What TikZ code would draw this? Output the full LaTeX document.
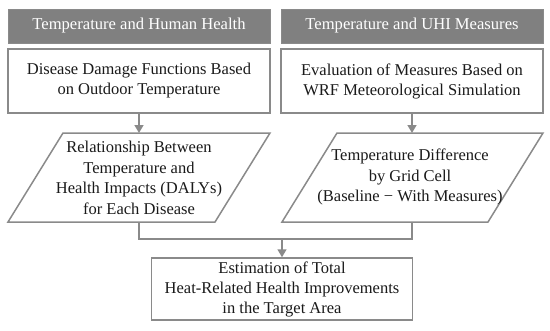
\documentclass[tikz,border=0pt]{standalone}
\usepackage{fontspec}
\setmainfont{Liberation Serif}
\usetikzlibrary{arrows.meta}
\definecolor{hdr}{HTML}{808080}
\definecolor{edge}{HTML}{8A8A8A}
\definecolor{ink}{HTML}{1A1A1A}
\tikzset{
  hdrbox/.style={fill=hdr, draw=edge, line width=1pt, minimum width=262pt, minimum height=34pt, text=white, font=\fontsize{16.6}{20}\selectfont, inner sep=0pt},
  procbox/.style={draw=edge, line width=1.5pt, fill=white, text=ink, align=center, font=\fontsize{16.5}{20}\selectfont, inner sep=0pt},
  txt/.style={text=ink, align=center, font=\fontsize{16.5}{20.5}\selectfont, inner sep=0pt},
  para/.style={draw=edge, line width=1.5pt, line join=miter},
  conn/.style={draw=edge, line width=1.5pt},
  arr/.style={draw=edge, line width=1.5pt, -{Triangle[width=9pt,length=8pt]}},
}
\begin{document}
\begin{tikzpicture}[x=1pt,y=-1pt]
\useasboundingbox (0,0) rectangle (550,330);
% headers
\node[hdrbox] (h1) at (139,26) {Temperature and Human Health};
\node[hdrbox] (h2) at (412,26) {Temperature and UHI Measures};
% top boxes
\node[procbox, minimum width=262pt, minimum height=64pt] (b1) at (139,81) {Disease Damage Functions Based\\on Outdoor Temperature};
\node[procbox, minimum width=262pt, minimum height=64pt] (b2) at (412,81) {Evaluation of Measures Based on\\WRF Meteorological Simulation};
% parallelograms
\coordinate (p1tl) at (63,133); \coordinate (p1tr) at (270,133);
\coordinate (p1br) at (215,222); \coordinate (p1bl) at (8,222);
\draw[para] (p1tl) -- (p1tr) -- (p1br) -- (p1bl) -- cycle;
\coordinate (p1top) at (139,133); \coordinate (p1bot) at (139,222);
\node[txt] (t1) at (139,178) {Relationship Between\\Temperature and\\Health Impacts (DALYs)\\for Each Disease};
\coordinate (p2tl) at (337,133); \coordinate (p2tr) at (543,133);
\coordinate (p2br) at (488,222); \coordinate (p2bl) at (282,222);
\draw[para] (p2tl) -- (p2tr) -- (p2br) -- (p2bl) -- cycle;
\coordinate (p2top) at (412,133); \coordinate (p2bot) at (412,222);
\node[txt] (t2) at (410,177) {Temperature Difference\\by Grid Cell\\(Baseline − With Measures)};
% final box
\node[procbox, minimum width=261pt, minimum height=62pt] (b3) at (282,289) {Estimation of Total\\Heat-Related Health Improvements\\in the Target Area};
% connectors
\draw[arr] (b1.south) -- (p1top);
\draw[arr] (b2.south) -- (p2top);
\coordinate (j1) at (139,239); \coordinate (j2) at (412,239); \coordinate (jm) at (282,239);
\draw[conn] (p1bot) -- (j1) -- (j2) -- (p2bot);
\draw[arr] (jm) -- (b3.north);
\end{tikzpicture}
\end{document}
